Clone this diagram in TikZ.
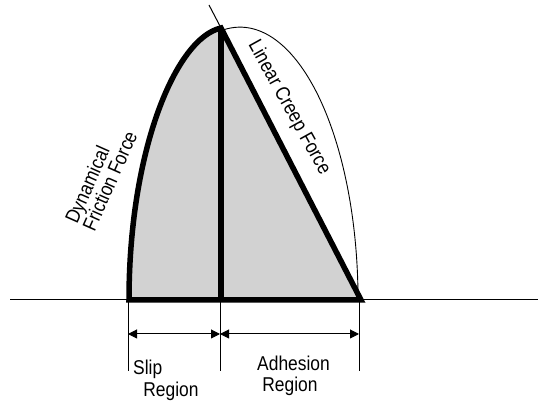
\documentclass[tikz,border=0pt]{standalone}
\usepackage{fontspec}
\newfontfamily\narrowfont[FakeStretch=0.87]{Liberation Sans}
\usetikzlibrary{arrows.meta}

\begin{document}
\begin{tikzpicture}[x=1pt,y=1pt,
    thickline/.style={line width=5.5pt,line join=miter},
    thinline/.style={line width=1pt},
    dimline/.style={line width=1pt,{Triangle[length=9pt,width=9pt]}-{Triangle[length=9pt,width=9pt]}},
    lbl/.style={inner sep=0pt,font=\narrowfont\fontsize{20}{19}\selectfont}]
  \useasboundingbox (0,0) rectangle (539,401);
  % corners of the patch
  \coordinate (bl) at (129,101);
  \coordinate (mb) at (221,101);
  \coordinate (br) at (361,101);
  \coordinate (apex) at (221,373);
  \coordinate (tip) at (209,396);
  \coordinate (gl) at (10,101);
  \coordinate (gr) at (538,101);
  % shaded area
  \fill[gray!35] (bl) .. controls (129,251) and (176,363) .. (apex) -- (br) -- cycle;
  \draw[thinline] (gl) -- (gr);
  % creep line extension and thin envelope
  \draw[thinline] (tip) -- (apex);
  \draw[line width=0.9pt] (223,371) arc[start angle=98.3,end angle=0,x radius=118,y radius=273];
  % thick outline
  \draw[thickline] (bl) .. controls (129,251) and (176,363) .. (apex) -- (br) -- cycle;
  \draw[thickline] (apex) -- (mb);
  % dimension lines
  \foreach \x/\n in {128/a,220/b,359/c} {
    \draw[thinline] (\x,99) -- (\x,30);
    \coordinate (d\n) at (\x,67);
  }
  \draw[dimline] (da) -- (db);
  \draw[dimline] (db) -- (dc);
  \node[lbl,anchor=base west] (sliptxt) at (133,26) {Slip};
  \node[lbl,anchor=base] (slipreg) at (171,4) {Region};
  \node[lbl,anchor=base] (adhtxt) at (293.5,30) {Adhesion};
  \node[lbl,anchor=base] (adhreg) at (290,9) {Region};
  \node[lbl,rotate=-61] (creep) at (289,293) {Linear Creep Force};
  \node[lbl,rotate=66,align=left] (friction) at (101,224) {Dynamical\\Friction Force};
\end{tikzpicture}
\end{document}
